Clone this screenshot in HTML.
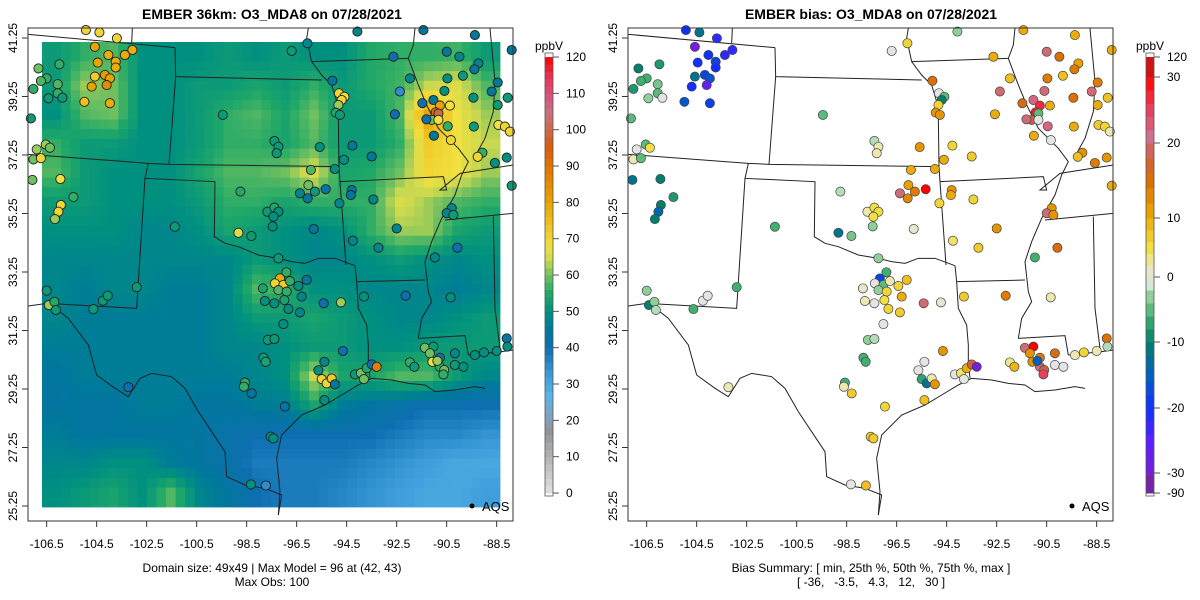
<!DOCTYPE html>
<html><head><meta charset="utf-8"><style>
body{margin:0;background:#fff;font-family:"Liberation Sans",Arial,sans-serif}
svg{display:block}
text{font-family:"Liberation Sans",Arial,sans-serif}
</style></head><body>
<svg id="chart" width="1200" height="600" viewBox="0 0 1200 600" xmlns="http://www.w3.org/2000/svg">
<rect width="1200" height="600" fill="#fff"/>
<text x="272" y="19" text-anchor="middle" font-size="14" font-weight="bold">EMBER 36km: O3_MDA8 on 07/28/2021</text>
<text x="871" y="19" text-anchor="middle" font-size="14" font-weight="bold">EMBER bias: O3_MDA8 on 07/28/2021</text>
<g id="heat"></g>
<g id="mapL" transform="translate(25,25) scale(0.33333)"></g>
<g id="mapR" transform="translate(625,25) scale(0.33333)"></g>
<g id="ptsL"></g>
<g id="ptsR"></g>
<rect x="28" y="28" width="485" height="493" fill="none" stroke="#333" stroke-width="1"/>
<rect x="628" y="28" width="485" height="493" fill="none" stroke="#333" stroke-width="1"/>
<g id="axes"></g>
<g id="cbars"></g>
<circle cx="472" cy="506" r="2.5" fill="#000"/>
<text x="482" y="511" font-size="13">AQS</text>
<circle cx="1072" cy="506" r="2.5" fill="#000"/>
<text x="1082" y="511" font-size="13">AQS</text>
<text x="272" y="572" text-anchor="middle" font-size="12">Domain size: 49x49 | Max Model = 96 at (42, 43)</text>
<text x="272" y="586" text-anchor="middle" font-size="12">Max Obs: 100</text>
<text x="871" y="572" text-anchor="middle" font-size="12">Bias Summary: [ min, 25th %, 50th %, 75th %, max ]</text>
<text x="871" y="586" text-anchor="middle" font-size="12" xml:space="preserve">[ -36,   -3.5,   4.3,   12,   30 ]</text>
</svg>
<script>
const NS="http://www.w3.org/2000/svg";
const xTicks=[-106.5,-104.5,-102.5,-100.5,-98.5,-96.5,-94.5,-92.5,-90.5,-88.5];
const yTicks=[25.25,27.25,29.25,31.25,33.25,35.25,37.25,39.25,41.25];
const obsTicks=[0,10,20,30,40,50,60,70,80,90,100,110,120];
const biasTickVals=[-90,-30,-20,-10,0,10,20,30,120];
const modelGrid=[
[52,56,58,50,50,50,52,50,52,50,50,55,56,56,57,52],
[52,62,60,50,50,52,52,54,52,56,52,55,57,64,66,58],
[50,58,60,50,50,52,56,58,54,60,52,52,58,80,68,62],
[56,52,52,50,50,52,56,56,54,58,52,52,56,72,68,64],
[58,52,50,50,50,54,58,58,60,66,54,55,60,70,68,62],
[52,52,50,50,50,52,56,56,54,56,56,56,66,62,58,56],
[50,50,50,48,48,50,54,52,50,48,50,56,62,62,54,52],
[48,48,48,48,48,48,48,52,50,48,48,50,52,50,48,50],
[48,46,48,48,46,46,48,58,56,50,50,48,48,48,46,48],
[48,46,46,46,46,46,48,52,52,54,52,50,48,48,50,52],
[46,46,46,46,46,46,48,48,50,52,52,50,50,52,52,52],
[44,46,46,46,46,46,46,48,50,64,54,54,58,58,52,48],
[44,44,44,46,46,44,44,46,46,54,46,44,42,40,40,40],
[46,44,44,44,44,44,42,40,40,40,40,40,38,36,36,34],
[48,48,50,50,46,44,42,38,38,38,38,36,34,32,30,30],
[50,52,54,50,58,48,44,40,38,38,36,34,32,30,30,32]];
const stLon=[-104.93,-104.39,-103.69,-104.57,-103.07,-104.03,-103.37,-104.46,-103.74,-103.74,-104.57,-104.17,-103.97,-104.7,-104.1,-104.99,-103.97,-105.99,-106.83,-106.5,-106.73,-106.06,-107.03,-106.43,-106.06,-105.87,-107.13,-106.54,-106.9,-106.37,-107.03,-106.73,-107.07,-105.95,-105.43,-105.93,-106.03,-106.17,
-96.7,-96.07,-94.07,-99.45,-95.07,-94.81,-94.59,-94.7,-94.83,-94.94,-94.77,-97.39,-97.23,-97.3,-95.58,-94.27,-93.5,-94.61,-95.93,-94.97,-96.03,-96.37,-96.06,-95.77,-95.34,-94.3,-94.33,-94.79,-93.43,-98.75,-97.67,-97.39,-97.23,-97.43,-97.46,-101.37,-98.83,-98.31,-95.82,-94.25,-93.23,-92.5,-97.23,
-92.63,-91.97,-92.37,-92.57,-90.5,-89.99,-89.37,-89.23,-89.39,-90.47,-89.85,-90.59,-89.43,-91.47,-91.03,-90.77,-90.94,-90.37,-90.83,-91.1,-91.31,-90.46,-91.01,-90.33,-90.83,-88.7,-88.46,-88.46,-88.06,-89.41,-88.43,-88.17,-87.97,-89.07,-89.26,-88.57,-88.1,-87.9,-87.9,-91.43,-90.3,-90.5,-90.23,-90.07,-90.97,-90.34,-92.14,-93.81,
-96.91,-97.17,-97.37,-97.03,-96.77,-96.43,-96.1,-97.85,-97.23,-96.9,-97.77,-97.39,-96.99,-96.3,-96.83,-96.37,-95.42,-94.73,-97.03,-97.65,-97.39,-97.83,-97.74,-94.65,-95.39,-95.63,-95.5,-95.3,-95.1,-94.97,-95.39,-96.97,-98.57,-98.61,-98.3,-103.23,-97.54,-97.43,-98.33,-97.73,-94.17,-93.93,-93.81,-93.7,-93.5,-93.3,
-91.37,-91.03,-91.17,-90.77,-90.77,-91.07,-90.87,-90.6,-90.63,-91.97,-91.79,-90.17,-90.17,-89.83,-89.37,-89.01,-88.5,-88.1,-88.07,
-106.5,-106.41,-106.19,-106.13,-104.25,-104.06,-104.63,-102.9];
const stLat=[41.52,41.44,41.24,40.95,40.84,40.67,40.67,40.41,40.44,40.24,39.93,39.99,39.87,39.59,39.64,39.07,39.02,40.35,40.21,39.87,39.78,39.67,39.51,39.19,39.36,39.21,38.5,37.61,37.44,37.5,37.1,37.14,36.4,36.43,35.81,35.54,35.31,35.06,
40.81,41.07,41.47,38.62,39.79,39.36,39.24,39.13,38.96,38.7,38.62,37.73,37.53,37.31,37.52,37.57,37.2,37.09,36.74,36.77,36.22,35.94,35.77,36.0,36.08,36.05,35.88,35.6,35.73,36.0,35.31,35.45,35.31,35.14,34.81,34.8,34.59,34.48,34.72,34.32,34.08,34.74,33.72,
40.61,39.87,39.42,38.64,40.78,40.61,41.35,40.38,40.18,39.87,39.96,39.44,39.21,39.02,39.13,38.94,38.71,38.94,38.67,38.45,38.47,38.23,37.91,37.76,38.45,39.42,39.73,38.96,39.21,38.22,38.28,38.22,38.05,37.33,37.19,36.98,37.16,36.2,40.84,41.52,35.43,35.26,35.2,34.08,33.75,32.38,32.44,32.41,
33.24,33.03,32.86,32.81,32.94,32.77,32.98,32.69,32.63,32.58,32.26,32.18,32.29,32.41,31.99,31.87,32.18,32.21,31.47,30.93,30.96,30.32,30.18,30.55,30.18,29.89,29.59,29.44,29.61,29.41,28.87,28.65,29.47,29.33,29.1,29.31,27.62,27.56,25.99,25.95,29.75,29.79,29.59,29.96,30.09,30.01,
30.66,30.7,30.47,30.32,30.01,30.18,30.21,29.9,29.75,30.16,30.01,30.47,30.07,30.01,30.41,30.5,30.55,30.98,30.7,
32.61,32.12,32.23,31.95,32.27,32.44,31.98,32.73];
const stObs=[70,70,70,80,78,78,78,80,78,78,72,82,80,80,85,74,78,56,60,56,58,58,56,52,56,52,52,62,62,60,60,70,60,68,56,70,70,62,
52,48,48,52,45,70,68,70,62,55,52,52,52,52,50,45,45,50,58,50,60,48,45,52,42,42,45,48,48,55,52,55,50,50,50,52,66,52,45,48,48,48,52,
40,48,35,40,45,48,45,48,45,50,52,50,50,40,45,80,90,68,100,60,40,56,45,70,68,45,45,52,52,52,68,70,70,56,70,50,50,52,45,45,48,48,52,40,48,50,40,50,
56,78,70,72,56,50,45,54,58,56,50,50,54,48,50,48,40,62,50,52,52,52,54,40,48,50,70,70,72,45,50,42,56,56,45,40,50,50,50,35,52,60,60,55,40,88,
60,52,60,40,56,68,62,60,56,56,52,48,52,50,50,50,50,42,50,
52,62,55,52,52,52,52,52];
const stBias=[-20,-12,-22,-30,-22,-20,-22,-20,-18,-20,-12,-18,-16,-20,-26,-16,-18,-8,-10,-6,-6,-4,-8,-3,-5,0,-5,-5,0,5,2,-5,-12,-10,-8,-10,-14,-10,
0,6,-3,-5,15,0,-5,-10,6,12,12,-2,2,2,12,6,7,10,10,10,11,20,13,14,30,12,10,6,6,-2,2,5,5,5,-3,-6,-12,-4,1,4,7,12,-3,
10,8,20,10,20,15,10,11,14,14,8,20,15,16,22,27,28,10,-5,18,20,22,10,0,0,20,14,10,8,10,7,6,2,12,8,14,12,10,10,10,12,20,12,16,-6,2,14,7,
-6,-18,0,-5,2,6,8,1,-3,6,2,0,5,10,6,7,20,1,0,-3,-2,-6,-6,12,0,0,-7,-12,2,12,8,6,-6,2,7,2,7,7,0,8,0,4,0,10,18,-30,
20,30,12,14,20,12,-15,18,25,3,9,16,0,0,2,6,2,15,-2,
-3,-10,-3,-2,0,0,-6,-6];

function X(lon){return 46.67+25*(lon+106.5);}
function Y(lat){return 506-29.25*(lat-25.25);}
function el(tag,attrs,parent){const e=document.createElementNS(NS,tag);for(const k in attrs)e.setAttribute(k,attrs[k]);parent.appendChild(e);return e;}
function hex(c){return [parseInt(c.slice(1,3),16),parseInt(c.slice(3,5),16),parseInt(c.slice(5,7),16)];}
function interp(stops,v){
  if(v<=stops[0][0])return stops[0][1];
  for(let i=1;i<stops.length;i++){if(v<=stops[i][0]){const t=(v-stops[i-1][0])/(stops[i][0]-stops[i-1][0]);const a=hex(stops[i-1][1]),b=hex(stops[i][1]);return "rgb("+a.map((x,k)=>Math.round(x+(b[k]-x)*t)).join(",")+")";}}
  return stops[stops.length-1][1];}
const obsStops=[[0,"#e0e0e0"],[10,"#b4b4b4"],[17,"#909498"],[22,"#7ea4c0"],[27,"#58b4e8"],[33,"#3a9ad8"],[40,"#0e6fb0"],[45,"#00789c"],[50,"#009080"],[55,"#20a868"],[60,"#70c060"],[64,"#c8d850"],[68,"#f0e040"],[74,"#f0c020"],[80,"#e8a400"],[90,"#e07400"],[96,"#d85a10"],[100,"#d06848"],[105,"#c87080"],[110,"#d85080"],[115,"#e83050"],[120,"#ff0000"]];
const biasStops=[[-90,"#6a2a8a"],[-32,"#8020c8"],[-25,"#5a20ff"],[-20,"#1030ff"],[-15,"#0060c0"],[-10,"#00806c"],[-6,"#40b070"],[-3,"#90d098"],[-1,"#d8e8d8"],[0,"#e4e4e4"],[2,"#ece8b0"],[5,"#f0e040"],[8,"#f0c020"],[11,"#e8a000"],[15,"#dc7000"],[18,"#d06040"],[21,"#d07090"],[25,"#e84060"],[29,"#ff1010"],[30,"#ff0000"],[120,"#a02828"]];
function biasY(v){const pv=[-90,-30,-20,-10,0,10,20,30,120],py=[493,473,408,342,277,218,143,77,57];
  for(let i=1;i<pv.length;i++){if(v<=pv[i]){const t=(v-pv[i-1])/(pv[i]-pv[i-1]);return py[i-1]+(py[i]-py[i-1])*t;}}return 57;}

// heatmap: bilinear upsample of model grid to 48x48 display cells
const heat=document.getElementById('heat');
const nR=modelGrid.length,nC=modelGrid[0].length,gx0=42,gy0=42,gw=458,gh=465,UP=48;
function sample(fr,fc){
  const r=Math.max(0,Math.min(nR-1,fr)),c=Math.max(0,Math.min(nC-1,fc));
  const r0=Math.floor(r),c0=Math.floor(c),r1=Math.min(nR-1,r0+1),c1=Math.min(nC-1,c0+1),tr=r-r0,tc=c-c0;
  const a=modelGrid[r0][c0]*(1-tc)+modelGrid[r0][c1]*tc,b=modelGrid[r1][c0]*(1-tc)+modelGrid[r1][c1]*tc;
  return a*(1-tr)+b*tr;}
for(let r=0;r<UP;r++)for(let c=0;c<UP;c++){
  const fr=(r+0.5)*nR/UP-0.5,fc=(c+0.5)*nC/UP-0.5;
  const e=el('rect',{x:(gx0+c*gw/UP).toFixed(2),y:(gy0+r*gh/UP).toFixed(2),width:(gw/UP+0.4).toFixed(2),height:(gh/UP+0.4).toFixed(2),fill:interp(obsStops,sample(fr,fc))},heat);
  
  
}

// boundaries
const paths=["M10,28 L450,68","M322,10 L320,55","M450,68 L452,155 L890,165","M452,155 L432,418","M10,388 L370,415 L432,418 L940,425",
"M370,415 L360,460 L570,470 L568,635 L600,655 L640,665 L700,690 L760,700 L800,710 L840,715 L880,700 L930,700 L990,722",
"M850,10 L845,40 L860,110 L890,150 L920,180 L935,230 L940,275 L942,425 L945,470",
"M360,460 L335,850 L65,835 L10,843","M85,845 L130,880 L190,960 L215,1050 L270,1090 L310,1115 L345,1060 L380,1045 L440,1055 L480,1090 L520,1160 L560,1220 L600,1280 L605,1355 L660,1380 L720,1390 L770,1410 L760,1470",
"M760,1470 L765,1400 L755,1300 L770,1230 L830,1170 L900,1140 L950,1110 L1000,1080 L1040,1060 L1100,1065 L1150,1075 L1200,1080 L1230,1100 L1290,1095 L1350,1085 L1380,1090",
"M990,722 L995,770 L1000,850 L1025,900 L1030,960 L1030,1010 L1035,1060","M945,470 L963,720",
"M945,470 L1255,455 L1265,495 L1245,495 L1305,445 L1465,420","M995,770 L1200,765",
"M1170,10 L1165,60 L1150,100 L1180,180 L1205,240 L1240,310 L1300,370 L1330,410 L1310,450 L1290,510 L1250,580 L1220,650 L1200,710 L1210,800 L1220,830 L1190,880 L1180,940",
"M1180,940 L1320,932 L1330,990 L1380,985 L1430,980 L1465,975","M860,110 L1150,100","M1260,585 L1465,565","M1405,575 L1410,850 L1425,970","M1395,10 L1410,170 L1405,260 L1380,340 L1355,385"];
["mapL","mapR"].forEach(id=>{const g=document.getElementById(id);paths.forEach(d=>{
  const p=el('path',{d:d,fill:"none",stroke:"#222","stroke-width":"1","vector-effect":"non-scaling-stroke"},g);
  
  
});});

// points
const pL=document.getElementById('ptsL'),pR=document.getElementById('ptsR');
for(let i=0;i<stLon.length;i++){
  const cx=X(stLon[i]),cy=Y(stLat[i]);
  const a=el('circle',{cx:cx.toFixed(1),cy:cy.toFixed(1),r:"4.6",fill:interp(obsStops,stObs[i]),stroke:"#222","stroke-width":"0.9"},pL);
  
  
  const b=el('circle',{cx:(cx+600).toFixed(1),cy:cy.toFixed(1),r:"4.6",fill:interp(biasStops,stBias[i]),stroke:"#444","stroke-width":"0.7"},pR);
  
  
}

// axes
const ax=document.getElementById('axes');
[0,600].forEach(off=>{
  xTicks.forEach(t=>{const x=X(t)+off;
    el('line',{x1:x,y1:521,x2:x,y2:527,stroke:"#333"},ax);
    const tx=el('text',{x:x,y:548,"text-anchor":"middle","font-size":"12"},ax);tx.textContent=t.toFixed(1);
    
    });
  yTicks.forEach(t=>{const y=Y(t);
    el('line',{x1:28+off,y1:y,x2:22+off,y2:y,stroke:"#333"},ax);
    const tx=el('text',{x:0,y:0,"text-anchor":"middle","font-size":"12",transform:`translate(${17+off},${y}) rotate(-90)`},ax);tx.textContent=t.toFixed(2);
    
    });
});

// colorbars
const cb=document.getElementById('cbars');
for(let v=0;v<120;v+=2){const y1=493-v*3.633,y2=493-(v+2)*3.633;
  const r=el('rect',{x:545,y:(Math.min(y1,y2)).toFixed(2),width:8,height:(Math.abs(y1-y2)+0.5).toFixed(2),fill:interp(obsStops,v+1)},cb);
  
  }
el('rect',{x:545,y:53,width:8,height:443,fill:"none",stroke:"#555","stroke-width":"0.8"},cb);
obsTicks.forEach(t=>{const y=493-t*3.633;el('line',{x1:553,y1:y,x2:559,y2:y,stroke:"#555"},cb);
  const tx=el('text',{x:566,y:y+4,"font-size":"12"},cb);tx.textContent=t;
  
  });
const u1=el('text',{x:549,y:50,"text-anchor":"middle","font-size":"12"},cb);u1.textContent="ppbV";


const bsteps=[-90,-36,-34,-32,-30,-28,-26,-24,-22,-20,-18,-16,-14,-12,-10,-8,-6,-4,-2,0,2,4,6,8,10,12,14,16,18,20,22,24,26,28,30,120];
for(let i=0;i<bsteps.length-1;i++){const y1=biasY(bsteps[i]),y2=biasY(bsteps[i+1]);
  const r=el('rect',{x:1146,y:y2.toFixed(2),width:8,height:(y1-y2+0.5).toFixed(2),fill:interp(biasStops,(bsteps[i]+bsteps[i+1])/2)},cb);
  
  }
el('rect',{x:1146,y:53,width:8,height:443,fill:"none",stroke:"#555","stroke-width":"0.8"},cb);
biasTickVals.forEach(t=>{const y=biasY(t);el('line',{x1:1154,y1:y,x2:1160,y2:y,stroke:"#555"},cb);
  const tx=el('text',{x:1167,y:y+4,"font-size":"12"},cb);tx.textContent=t;
  
  });
const u2=el('text',{x:1150,y:50,"text-anchor":"middle","font-size":"12"},cb);u2.textContent="ppbV";


</script>
</body></html>
